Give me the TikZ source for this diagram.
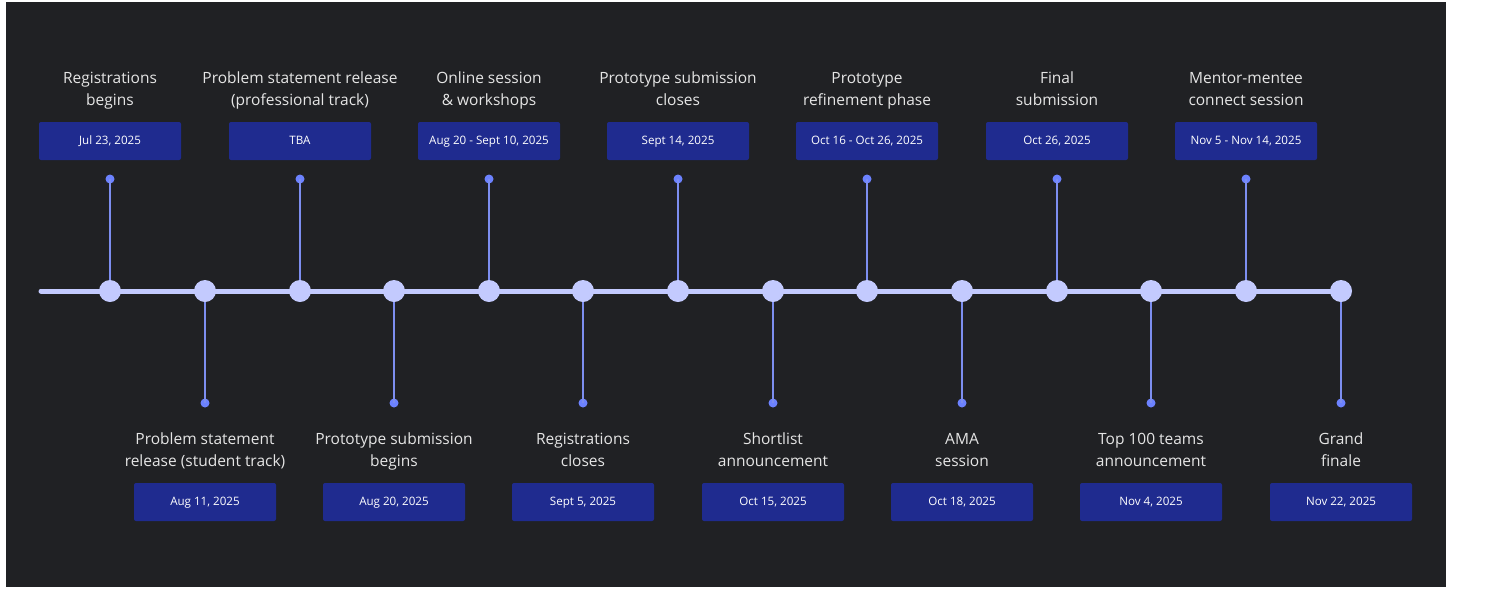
\documentclass[tikz,border=0pt]{standalone}
\usepackage{fontspec}
\setmainfont{Open Sans}
\definecolor{bg}{HTML}{202124}
\definecolor{boxc}{HTML}{1F2B8F}
\definecolor{linec}{HTML}{C3CAFE}
\definecolor{stemc}{HTML}{7D8EF0}
\definecolor{dotc}{HTML}{6C82FF}
\tikzset{
  bigdot/.style={circle,fill=linec,minimum size=22pt,inner sep=0pt},
  smalldot/.style={circle,fill=dotc,minimum size=9pt,inner sep=0pt},
  datebox/.style={rectangle,rounded corners=2pt,fill=boxc,minimum width=142pt,minimum height=38pt,inner sep=0pt,text=white,font=\fontsize{11.6}{13}\selectfont,text height=8.5pt,text depth=2.5pt},
  evlabel/.style={align=center,text=white!90!black,font=\fontsize{15.5}{22}\selectfont,inner sep=0pt,text height=12pt,text depth=28pt},
  stem/.style={draw=stemc,line width=1.6pt},
  mainline/.style={draw=linec,line width=5pt,line cap=round}
}
\begin{document}
\begin{tikzpicture}[x=1pt,y=-1pt]
\useasboundingbox (0,0) rectangle (1488,595);
\fill[bg] (6,2) rectangle (1446,587);
\coordinate (start) at (41,291);
\foreach \i/\x in {0/110,1/205,2/300,3/394,4/489,5/583,6/678,7/773,8/867,9/962,10/1057,11/1151,12/1246,13/1341}{
  \coordinate (p\i) at (\x,291);
}
\draw[mainline] (start) -- (p13);
\foreach \i/\x/\ly/\by/\dy/\lab/\dat in {
  0/110/113/141/179/{Registrations\\begins}/{Jul 23, 2025},
  1/205/474/502/403/{Problem statement\\release (student track)}/{Aug 11, 2025},
  2/300/113/141/179/{Problem statement release\\(professional track)}/{TBA},
  3/394/474/502/403/{Prototype submission\\begins}/{Aug 20, 2025},
  4/489/113/141/179/{Online session\\\& workshops}/{Aug 20 - Sept 10, 2025},
  5/583/474/502/403/{Registrations\\closes}/{Sept 5, 2025},
  6/678/113/141/179/{Prototype submission\\closes}/{Sept 14, 2025},
  7/773/474/502/403/{Shortlist\\announcement}/{Oct 15, 2025},
  8/867/113/141/179/{Prototype\\refinement phase}/{Oct 16 - Oct 26, 2025},
  9/962/474/502/403/{AMA\\session}/{Oct 18, 2025},
  10/1057/113/141/179/{Final\\submission}/{Oct 26, 2025},
  11/1151/474/502/403/{Top 100 teams\\announcement}/{Nov 4, 2025},
  12/1246/113/141/179/{Mentor-mentee\\connect session}/{Nov 5 - Nov 14, 2025},
  13/1341/474/502/403/{Grand\\finale}/{Nov 22, 2025}}{
  \node[smalldot] (d\i) at (\x,\dy) {};
  \draw[stem] (p\i) -- (d\i.center);
  \node[bigdot] (c\i) at (p\i) {};
  \node[datebox] (b\i) at (\x,\by) {\dat};
  \node[evlabel] (l\i) at (\x,\ly) {\lab};
}
\end{tikzpicture}
\end{document}
